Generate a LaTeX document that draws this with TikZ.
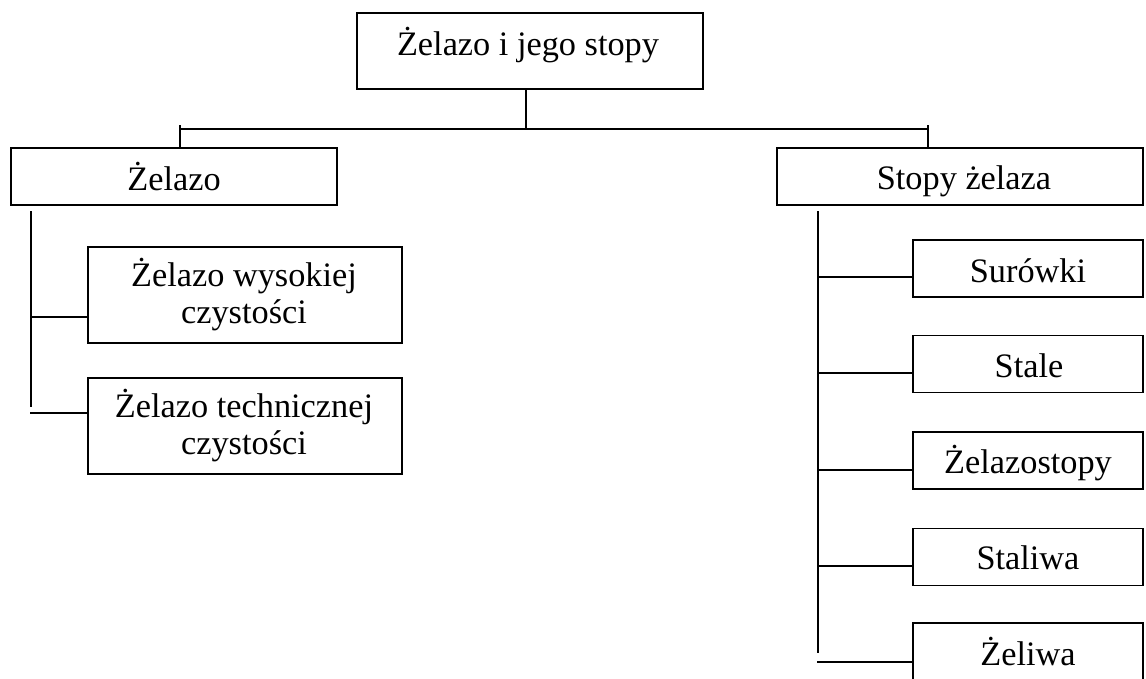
\documentclass[tikz,border=0pt]{standalone}
\usepackage{fontspec}
\setmainfont{Liberation Serif}
\tikzset{
  box/.style={draw=black, line width=1.8pt, rectangle, inner sep=0pt, fill=none},
  lbl/.style={inner sep=0pt, font=\fontsize{34.3}{36.5}\selectfont, align=center},
  conn/.style={draw=black, line width=1.8pt}
}
\begin{document}
\begin{tikzpicture}[x=1pt, y=-1pt]
\useasboundingbox (0,0) rectangle (1146,678);
% boxes
\node[box, minimum width=346pt, minimum height=76pt] (top) at (530,51) {};
\node[box, minimum width=326pt, minimum height=57pt] (zel) at (174,176.5) {};
\node[box, minimum width=366pt, minimum height=57pt] (stop) at (960,176.5) {};
\node[box, minimum width=314pt, minimum height=96pt] (zw) at (245,295) {};
\node[box, minimum width=314pt, minimum height=96pt] (zt) at (245,426) {};
\node[box, minimum width=230pt, minimum height=57pt] (sur) at (1028,268.5) {};
\node[box, minimum width=230pt, minimum height=57pt] (sta) at (1028,364) {};
\node[box, minimum width=230pt, minimum height=57pt] (zst) at (1028,460.5) {};
\node[box, minimum width=230pt, minimum height=57pt] (stw) at (1028,557) {};
\node[box, minimum width=230pt, minimum height=57pt] (zlw) at (1028,651.5) {};
% labels
\node[lbl, anchor=base] (topt) at (528,55) {Żelazo i jego stopy};
\node[lbl, anchor=base] (zelt) at (174,190) {Żelazo};
\node[lbl, anchor=base] (stopt) at (964,189) {Stopy żelaza};
\node[lbl, anchor=base] (zwt) at (244,323) {Żelazo wysokiej\\czystości};
\node[lbl, anchor=base] (ztt) at (244,454) {Żelazo technicznej\\czystości};
\node[lbl, anchor=base] (surt) at (1028,282) {Surówki};
\node[lbl, anchor=base] (stat) at (1029,377) {Stale};
\node[lbl, anchor=base] (zstt) at (1028,473) {Żelazostopy};
\node[lbl, anchor=base] (stwt) at (1028,569) {Staliwa};
\node[lbl, anchor=base] (zlwt) at (1028,665) {Żeliwa};
% connector coordinates
\coordinate (hub) at (526,129);
\coordinate (hl) at (180,129);
\coordinate (hr) at (928,129);
\coordinate (tl) at (180,125);
\coordinate (tr) at (928,125);
\coordinate (lv1) at (31,211);
\coordinate (lv2) at (31,407);
\coordinate (la) at (31,317);
\coordinate (lb) at (30,413);
\coordinate (rv1) at (818,211);
\coordinate (rv2) at (818,653);
\coordinate (ra) at (818,277);
\coordinate (rb) at (818,373);
\coordinate (rc) at (818,470);
\coordinate (rd) at (818,566);
\coordinate (re) at (817,662);
% connectors
\draw[conn] (top.south -| hub) -- (hub);
\draw[conn] (hl) -- (hr);
\draw[conn] (tl) -- (zel.north -| tl);
\draw[conn] (tr) -- (stop.north -| tr);
\draw[conn] (lv1) -- (lv2);
\draw[conn] (la) -- (la -| zw.west);
\draw[conn] (lb) -- (lb -| zt.west);
\draw[conn] (rv1) -- (rv2);
\draw[conn] (ra) -- (ra -| sur.west);
\draw[conn] (rb) -- (rb -| sta.west);
\draw[conn] (rc) -- (rc -| zst.west);
\draw[conn] (rd) -- (rd -| stw.west);
\draw[conn] (re) -- (re -| zlw.west);
\end{tikzpicture}
\end{document}
